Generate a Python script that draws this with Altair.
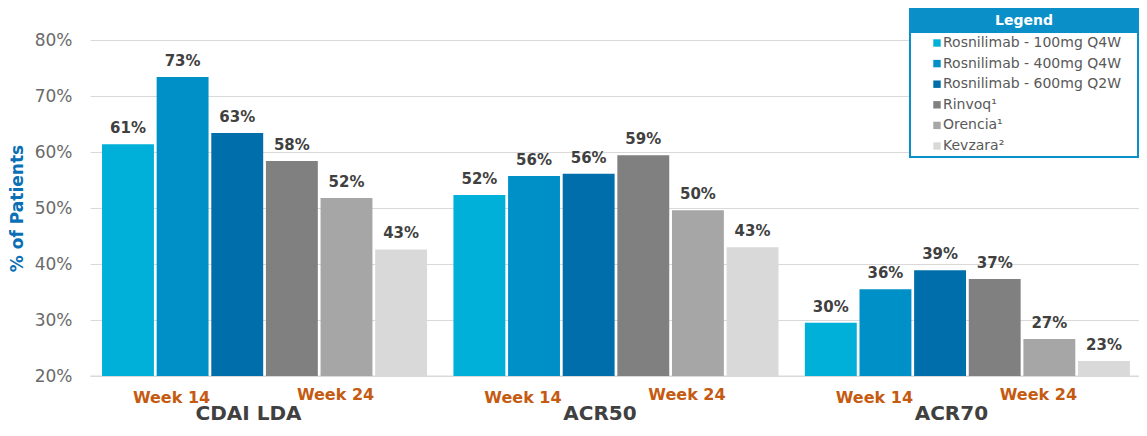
import altair as alt
import pandas as pd

groups = ["CDAI LDA", "ACR50", "ACR70"]
series = ["Rosnilimab - 100mg Q4W", "Rosnilimab - 400mg Q4W", "Rosnilimab - 600mg Q2W",
          "Rinvoq", "Orencia", "Kevzara"]
legend_labels = ["Rosnilimab - 100mg Q4W", "Rosnilimab - 400mg Q4W", "Rosnilimab - 600mg Q2W",
                 "Rinvoq\u00b9", "Orencia\u00b9", "Kevzara\u00b2"]
colors = ["#00b0d8", "#0090c8", "#006eaa", "#808080", "#a6a6a6", "#d9d9d9"]
cdai_lda = [61.4, 73.4, 63.4, 58.4, 51.8, 42.6]
acr50 = [52.3, 55.7, 56.1, 59.4, 49.6, 43.0]
acr70 = [29.5, 35.5, 38.9, 37.3, 26.6, 22.7]
week_labels = ["Week 14", "Week 24"]

rows = []
for g, vals in zip(groups, [cdai_lda, acr50, acr70]):
    for s, v in zip(series, vals):
        rows.append({"group": g, "series": s, "value": v})
df = pd.DataFrame(rows)

FONT = "DejaVu Sans"
W, H = 1049, 336

xenc = alt.X("group:N", sort=groups,
             scale=alt.Scale(paddingInner=0.075, paddingOuter=0.03, align=0.57),
             axis=None)
xoff = alt.XOffset("series:N", sort=series, scale=alt.Scale(paddingInner=0.05, paddingOuter=0))
yenc = alt.Y("value:Q", scale=alt.Scale(domain=[20, 80], nice=False, zero=False),
             axis=alt.Axis(values=[20, 30, 40, 50, 60, 70, 80], labelExpr="datum.value + '%'",
                           title="% of Patients", titleFont=FONT, titleFontSize=17,
                           titleFontWeight="bold", titleColor="#0a6fb5", titlePadding=8,
                           labelFont=FONT, labelFontSize=17, labelColor="#6a6a6a",
                           labelPadding=18, ticks=False, domain=False,
                           grid=True, gridColor="#d9d9d9", gridWidth=1))

bars = alt.Chart(df).mark_bar(clip=True).encode(
    x=xenc, xOffset=xoff, y=yenc,
    color=alt.Color("series:N", sort=series, scale=alt.Scale(domain=series, range=colors), legend=None),
)

labels = alt.Chart(df).transform_calculate(
    lbl="format(datum.value, '.0f') + '%'"
).mark_text(font=FONT, fontSize=15, fontWeight="bold", color="#404040",
            baseline="bottom", dy=-8).encode(
    x=xenc, xOffset=xoff, y=alt.Y("value:Q"), text="lbl:N",
)

baseline = alt.Chart(pd.DataFrame({"v": [20]})).mark_rule(color="#d9d9d9", strokeWidth=1).encode(
    y=alt.Y("v:Q"), x=alt.value(0), x2=alt.value(W))

gdf = pd.DataFrame({"group": groups})
wk14 = alt.Chart(gdf).mark_text(font=FONT, fontSize=16, fontWeight="bold", color="#c55a11",
                                dx=-93).encode(x=xenc, y=alt.value(358), text=alt.value(week_labels[0]))
wk24 = alt.Chart(gdf).mark_text(font=FONT, fontSize=16, fontWeight="bold", color="#c55a11",
                                dx=71).encode(x=xenc, y=alt.value(355), text=alt.value(week_labels[1]))
cat = alt.Chart(gdf).mark_text(font=FONT, fontSize=20, fontWeight="bold", color="#404040",
                               baseline="alphabetic", dx=-16).encode(
    x=xenc, y=alt.value(380), text="group:N")

# Legend box (manual, driven by the series list)
LX0, LX1 = 820, 1048
box = alt.Chart(pd.DataFrame({"a": [0]})).mark_rect(fill="white", stroke="#0a8fc8", strokeWidth=2).encode(
    x=alt.value(LX0), x2=alt.value(LX1), y=alt.value(-31), y2=alt.value(117))
header = alt.Chart(pd.DataFrame({"a": [0]})).mark_rect(fill="#0a8fc8").encode(
    x=alt.value(LX0), x2=alt.value(LX1), y=alt.value(-31), y2=alt.value(-7))
header_txt = alt.Chart(pd.DataFrame({"a": ["Legend"]})).mark_text(
    font=FONT, fontSize=14, fontWeight="bold", color="white").encode(
    x=alt.value((LX0 + LX1) / 2), y=alt.value(-19), text="a:N")

ldf = pd.DataFrame({"series": series, "label": legend_labels})
ly = alt.Y("series:N", sort=series, axis=None,
           scale=alt.Scale(domain=series, range=[3, 106], padding=0))
lsym = alt.Chart(ldf).mark_square(size=55, opacity=1).encode(
    x=alt.value(LX0 + 27), y=ly,
    color=alt.Color("series:N", sort=series, scale=alt.Scale(domain=series, range=colors), legend=None))
ltxt = alt.Chart(ldf).mark_text(font=FONT, fontSize=14, color="#595959", align="left").encode(
    x=alt.value(LX0 + 33), y=ly, text="label:N")

main = alt.layer(baseline, bars, labels, wk14, wk24, cat).properties(width=W, height=H)
leg = alt.layer(box, header, header_txt, lsym, ltxt)

chart = alt.layer(main, leg).resolve_scale(y="independent").properties(
    autosize=alt.AutoSizeParams(type="none"),
    padding={"left": 82, "top": 32, "right": 0, "bottom": 49},
).configure_view(stroke=None)

chart.save("out.html", embed_options={"renderer": "svg", "actions": False})
